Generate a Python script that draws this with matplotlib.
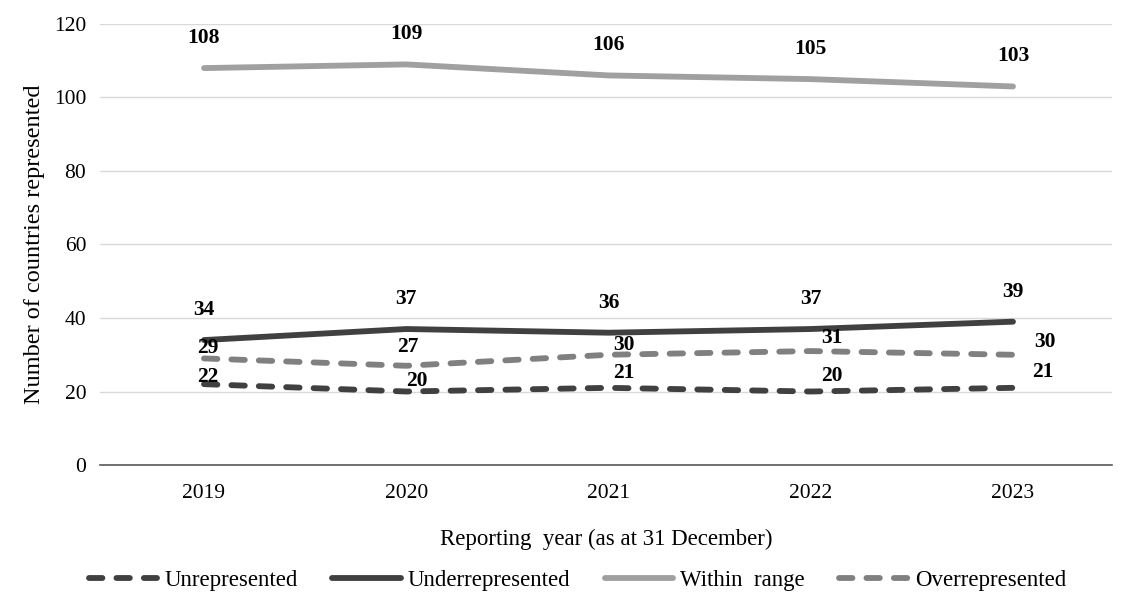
import matplotlib.pyplot as plt

plt.rcParams['font.family'] = ['Liberation Serif', 'DejaVu Serif']

years = ['2019', '2020', '2021', '2022', '2023']
unrepresented = [22, 20, 21, 20, 21]
underrepresented = [34, 37, 36, 37, 39]
within_range = [108, 109, 106, 105, 103]
overrepresented = [29, 27, 30, 31, 30]

# label nudges (pixels) for the two dashed series
unrep_dx = [4, 11, 15, 21, 30]
unrep_dy = [7, 11, 15, 16, 16]
over_dx = [4, 2, 15, 21, 32]
over_dy = [10, 19, 10, 13, 13]

fig = plt.figure(figsize=(11.29, 5.92), dpi=100)
ax = fig.add_axes([0.0886, 0.2145, 0.8964, 0.745])
x = range(len(years))

dash = (2.3, 2.4)
lw = 4.2
l1, = ax.plot(x, unrepresented, color='#404040', lw=lw, dashes=dash,
              dash_capstyle='round', label='Unrepresented')
l2, = ax.plot(x, underrepresented, color='#404040', lw=lw,
              solid_capstyle='round', label='Underrepresented')
l3, = ax.plot(x, within_range, color='#a0a0a0', lw=lw,
              solid_capstyle='round', label='Within  range')
l4, = ax.plot(x, overrepresented, color='#808080', lw=lw, dashes=dash,
              dash_capstyle='round', label='Overrepresented')

px = 0.72  # pixels -> points at 100 dpi
lab = dict(ha='center', va='center', fontsize=15.5, fontweight='bold',
           textcoords='offset points')
for i in x:
    ax.annotate(str(underrepresented[i]), (i, underrepresented[i]), xytext=(0, 30 * px), **lab)
    ax.annotate(str(within_range[i]), (i, within_range[i]), xytext=(0, 30 * px), **lab)
    ax.annotate(str(overrepresented[i]), (i, overrepresented[i]),
                xytext=(over_dx[i] * px, over_dy[i] * px), **lab)
    ax.annotate(str(unrepresented[i]), (i, unrepresented[i]),
                xytext=(unrep_dx[i] * px, unrep_dy[i] * px), **lab)

ax.set_xlim(-0.514, 4.49)
ax.set_ylim(0, 120)
ax.set_yticks(range(0, 121, 20))
ax.set_xticks(list(x))
ax.set_xticklabels(years)
ax.tick_params(length=0, labelsize=15.5, pad=10)
ax.tick_params(axis='x', pad=14)
ax.grid(axis='y', color='#d9d9d9', lw=1)
ax.set_axisbelow(True)
for s in ['top', 'right', 'left']:
    ax.spines[s].set_visible(False)
ax.spines['bottom'].set_color('#595959')
ax.spines['bottom'].set_linewidth(1.2)

ax.set_ylabel('Number of countries represented', fontsize=17.5, labelpad=6)
ax.set_xlabel('Reporting  year (as at 31 December)', fontsize=16.5, labelpad=18)

fig.legend(handles=[l1, l2, l3, l4], loc='center', bbox_to_anchor=(0.5115, 0.02),
           ncol=4, frameon=False, fontsize=16.5, handlelength=3.0,
           handletextpad=0.3, columnspacing=1.5)

fig.savefig('out.png', dpi=100)
